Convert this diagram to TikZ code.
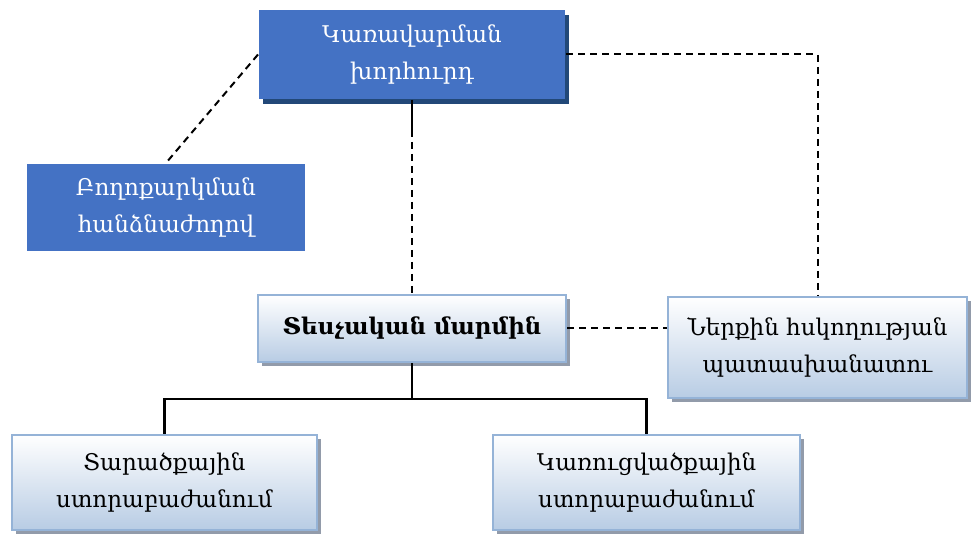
\documentclass[tikz,border=0pt]{standalone}
\usepackage{fontspec}
\setmainfont{DejaVu Serif}
\usetikzlibrary{shadows}
\definecolor{boardblue}{RGB}{68,114,196}
\definecolor{shadowblue}{RGB}{34,72,120}
\definecolor{edgeblue}{RGB}{149,179,215}
\definecolor{paleblue}{RGB}{184,204,228}
\definecolor{shadowgray}{RGB}{146,155,170}

\begin{document}
\begin{tikzpicture}[x=1pt,y=-1pt,line width=2pt,draw=black]
    \tikzstyle{box}=[rectangle,inner sep=0pt,align=center,font=\fontsize{23}{37}\selectfont]
    \tikzstyle{dark box}=[box,fill=boardblue,text=white]
    \tikzstyle{light box}=[box,draw=edgeblue,line width=2.5pt,top color=white,bottom color=paleblue,drop shadow={shadow xshift=4pt,shadow yshift=-4pt,fill=shadowgray,opacity=1}]
    \tikzstyle{link}=[line width=2pt,dash pattern=on 7pt off 5pt]

\useasboundingbox (0,0) rectangle (975,534);
\node[dark box,minimum width=306pt,minimum height=89pt,drop shadow={shadow xshift=4pt,shadow yshift=-5pt,fill=shadowblue,opacity=1}] (board) at (412,54.5) {Կառավարման\\խորհուրդ};
\node[dark box,minimum width=278pt,minimum height=87pt] (appeal) at (166,207.5) {Բողոքարկման\\հանձնաժողով};
\node[light box,minimum width=308pt,minimum height=67pt,font=\bfseries\fontsize{23}{37}\selectfont] (inspect) at (412,328.5) {Տեսչական մարմին};
\node[light box,minimum width=299pt,minimum height=101pt] (control) at (817.5,347.5) {Ներքին հսկողության\\պատասխանատու};
\node[light box,minimum width=305pt,minimum height=95pt] (regional) at (164.5,482.5) {Տարածքային\\ստորաբաժանում};
\node[light box,minimum width=307pt,minimum height=95pt] (structural) at (646.5,482.5) {Կառուցվածքային\\ստորաբաժանում};

\draw[link] (board.west) -- (appeal.north);
\draw[line width=2.5pt] (board.south) -- ++(0,30) coordinate (gap);
\draw[link] (gap) -- (inspect.north);
\draw[link] (board.east) -| (control.north);
\draw[link] (inspect.east) -- (inspect.east -| control.west);
\draw[line width=2.5pt] (inspect.south) -- ++(0,36) coordinate (fork);
\draw[line width=2.5pt] (fork) -| (regional.north);
\draw[line width=2.5pt] (fork) -| (structural.north);
\end{tikzpicture}
\end{document}
